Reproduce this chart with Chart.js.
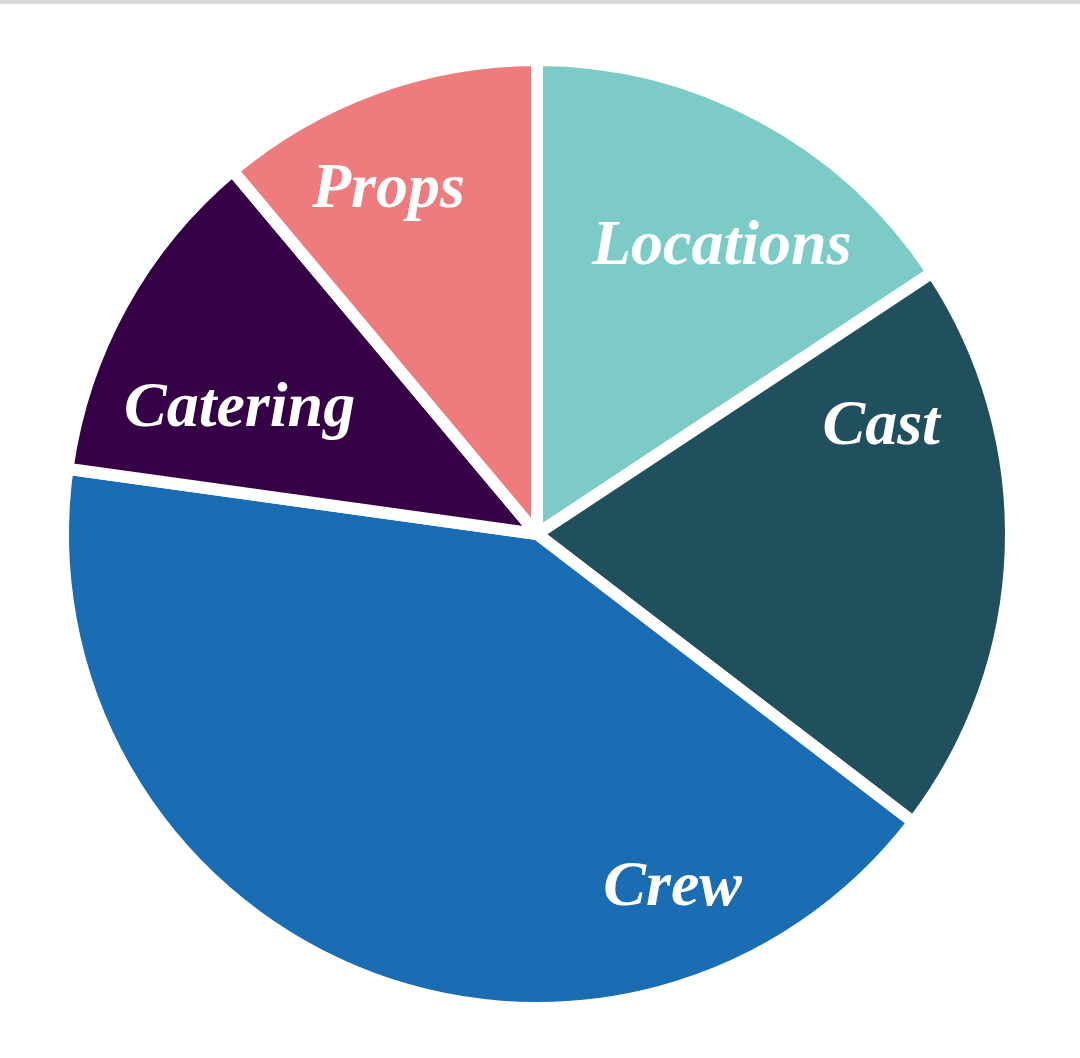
<!DOCTYPE html>
<html>
<head>
<meta charset="utf-8">
<script src="https://cdn.jsdelivr.net/npm/chart.js@4/dist/chart.umd.min.js"></script>
<style>
  html, body { margin: 0; padding: 0; background: #fff; }
  #wrap { position: relative; width: 1080px; height: 1058px; }
  #topbar { position: absolute; left: 0; top: 0; width: 1080px; height: 4px; background: #d9d9d9; z-index: 2; }
  canvas { position: absolute; left: 0; top: 0; }
</style>
</head>
<body>
<div id="wrap">
  <div id="topbar"></div>
  <canvas id="budgetPie" width="1080" height="1058"></canvas>
</div>
<script>
// budget split (share of total, %)
const categories = ["Locations", "Cast", "Crew", "Catering", "Props"];
const shares = [15.7, 19.7, 41.8, 11.7, 11.1];
const sliceColors = ["#7ccbc7", "#204f5e", "#1a6db3", "#350046", "#ee7b7e"];

// where each label sits inside its slice (fraction of sweep, fraction of radius)
const labelSweep = [0.58, 0.23, 0.21, 0.35, 0.415];
const labelReach = [0.72, 0.76, 0.80, 0.68, 0.79];

const sliceLabels = {
  id: "sliceLabels",
  afterDatasetsDraw(chart) {
    const { ctx } = chart;
    const arcs = chart.getDatasetMeta(0).data;
    ctx.save();
    ctx.fillStyle = "#ffffff";
    ctx.font = 'italic bold 64px "Liberation Serif", "DejaVu Serif", serif';
    ctx.textAlign = "center";
    ctx.textBaseline = "middle";
    arcs.forEach(function (arc, i) {
      const p = arc.getProps(["x", "y", "startAngle", "endAngle", "outerRadius"], true);
      const a = p.startAngle + labelSweep[i] * (p.endAngle - p.startAngle);
      const r = p.outerRadius * labelReach[i];
      ctx.fillText(categories[i], p.x + Math.cos(a) * r, p.y + Math.sin(a) * r);
    });
    ctx.restore();
  }
};

document.addEventListener("DOMContentLoaded", function () {
  const ctx = document.getElementById("budgetPie")?.getContext("2d");
  if (!ctx) {
    console.error("Pie canvas not found!");
    return;
  }

  new Chart(ctx, {
    type: "pie",
    data: {
      labels: categories,
      datasets: [{
        data: shares,
        backgroundColor: sliceColors,
        borderColor: "#ffffff",
        borderWidth: 12
      }]
    },
    options: {
      responsive: false,
      animation: false,
      layout: { padding: { left: 57, right: 63, top: 54, bottom: 44 } },
      plugins: {
        legend: { display: false },
        tooltip: { enabled: false }
      }
    },
    plugins: [sliceLabels]
  });
});
</script>
</body>
</html>
